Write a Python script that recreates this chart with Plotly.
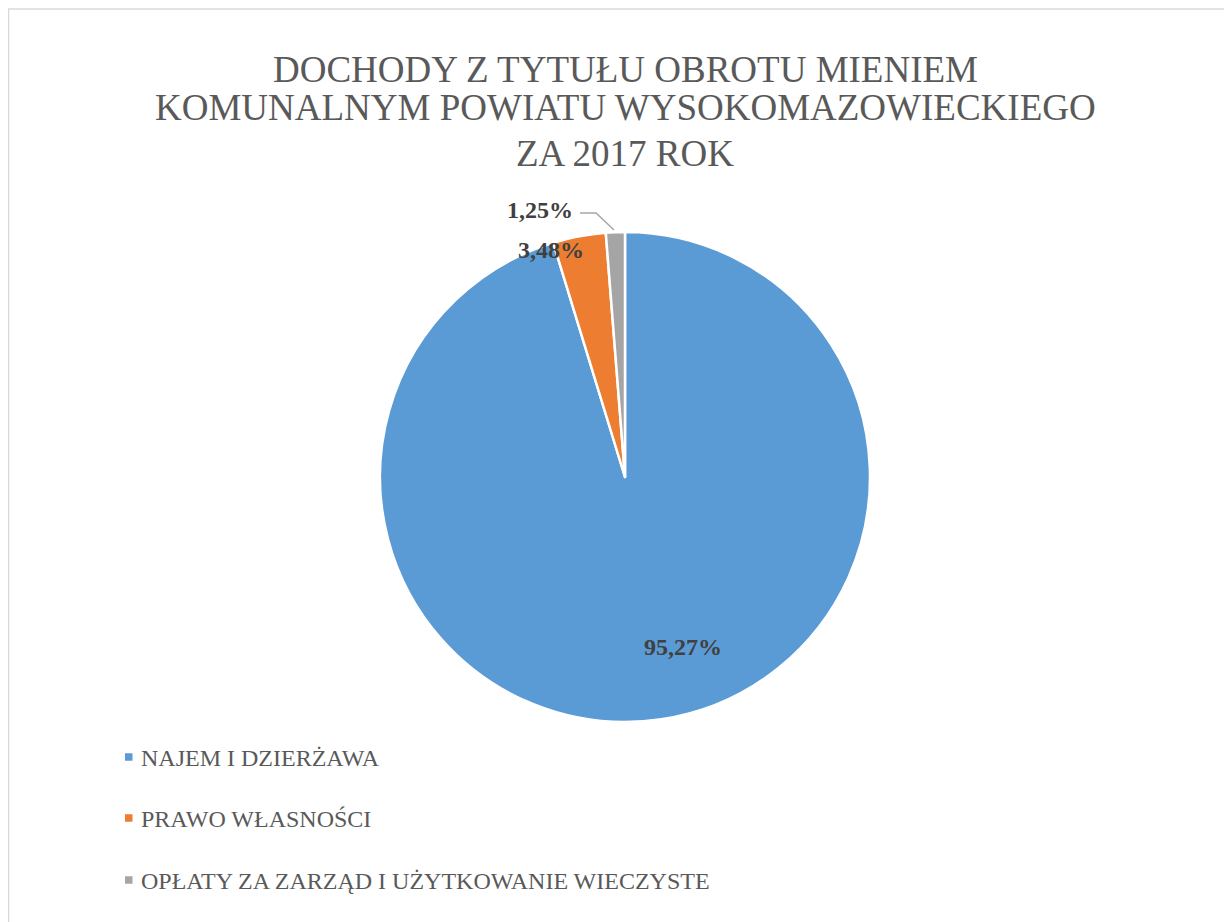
import plotly.graph_objects as go

labels = ["NAJEM I DZIERŻAWA", "PRAWO WŁASNOŚCI", "OPŁATY ZA ZARZĄD I UŻYTKOWANIE WIECZYSTE"]
values = [95.27, 3.48, 1.25]
colors = ["#5B9BD5", "#ED7D31", "#A5A5A5"]
title_lines = ["DOCHODY Z TYTUŁU OBROTU MIENIEM",
               "KOMUNALNYM POWIATU WYSOKOMAZOWIECKIEGO",
               "ZA 2017 ROK"]

W, H = 1232, 922
OFF = 8  # page body margin
def px(x): return (x - OFF) / W
def py(y): return 1 - (y - OFF) / H

def fmt(v):
    return f"{v:.2f}%".replace(".", ",")

SERIF = "Liberation Serif"

fig = go.Figure(go.Pie(
    labels=labels, values=values, sort=False, direction="clockwise", rotation=0,
    marker=dict(colors=colors, line=dict(color="white", width=2.5)),
    textinfo="none", showlegend=False, hoverinfo="label+percent",
    domain=dict(x=[px(380), px(870)], y=[py(722), py(232)]),
))

annotations = []
# title lines
title_y = [67, 106, 152]
for t, y in zip(title_lines, title_y):
    annotations.append(dict(x=px(625), y=py(y + 2), xref="paper", yref="paper",
                            text=t, showarrow=False, xanchor="center", yanchor="middle",
                            font=dict(family=SERIF, size=37, color="#595959")))

label_font = dict(family=SERIF, size=24, color="#404040")
label_pos = [(683, 646), (551, 249), (540, 209)]
for v, (x, y) in zip(values, label_pos):
    annotations.append(dict(x=px(x), y=py(y + 1), xref="paper", yref="paper",
                            text=f"<b>{fmt(v)}</b>", showarrow=False,
                            font=label_font, xanchor="center", yanchor="middle"))

# legend drawn manually
leg_y = [757, 818, 880]
shapes = [
    dict(type="rect", xref="paper", yref="paper", x0=px(8.5), x1=px(1250),
         y0=py(940), y1=py(9), line=dict(color="#D9D9D9", width=1.5)),
    dict(type="path", xref="paper", yref="paper",
         path=f"M {px(580)} {py(213)} L {px(596)} {py(213)} L {px(614)} {py(230)}",
         line=dict(color="#A6A6A6", width=1.5)),
]
for lab, c, y in zip(labels, colors, leg_y):
    shapes.append(dict(type="rect", xref="paper", yref="paper",
                       x0=px(125), x1=px(132.5), y0=py(y + 3.75), y1=py(y - 3.75),
                       fillcolor=c, line=dict(width=0)))
    annotations.append(dict(x=px(139), y=py(y + 1), xref="paper", yref="paper",
                            text=lab, showarrow=False, xanchor="left", yanchor="middle",
                            font=dict(family=SERIF, size=24, color="#595959")))

fig.update_layout(
    width=W, height=H,
    margin=dict(l=0, r=0, t=0, b=0),
    paper_bgcolor="white", plot_bgcolor="white",
    annotations=annotations, shapes=shapes,
)
fig.write_html("out.html")
